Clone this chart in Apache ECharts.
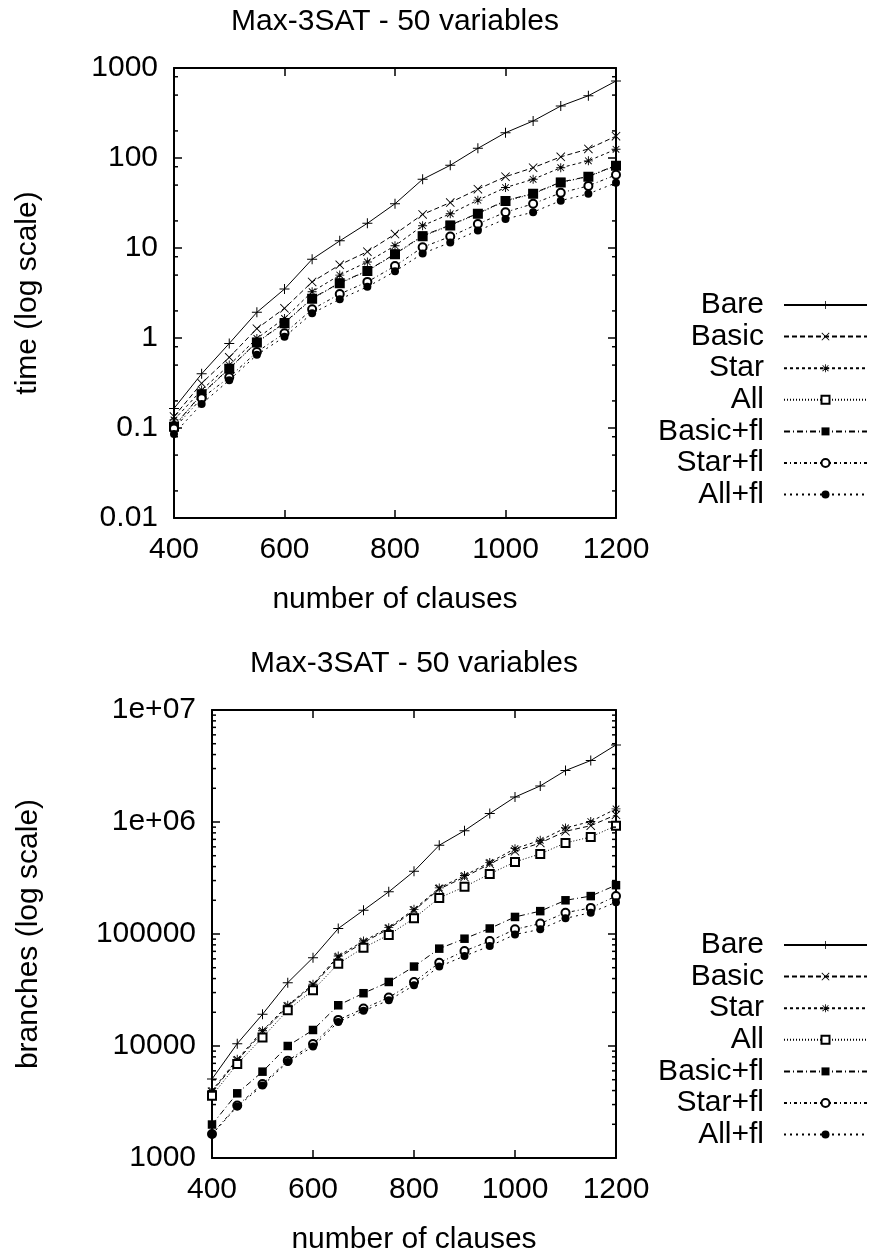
<!DOCTYPE html>
<html><head><meta charset="utf-8">
<script src="https://cdn.jsdelivr.net/npm/echarts@6/dist/echarts.min.js"></script>
<style>html,body{margin:0;padding:0;background:#fff}#c{width:871px;height:1256px}</style>
</head><body><div id="c"></div>
<script>
// ---------- data ----------
const clauses = [400,450,500,550,600,650,700,750,800,850,900,950,1000,1050,1100,1150,1200];
const seriesNames = ['Bare','Basic','Star','All','Basic+fl','Star+fl','All+fl'];

// top panel: time (log scale)
const timeBare   = [0.165,0.40,0.87,1.93,3.5,7.5,12,18.8,31,58,83,128,191,258,378,492,717];
const timeBasic  = [0.134,0.314,0.61,1.27,2.14,4.2,6.5,9.1,14.3,23.6,32,45,62,78,103,126,175];
const timeStar   = [0.123,0.264,0.50,0.99,1.65,3.27,5.0,7.0,10.6,17.7,24,34,47,58,78,93,125];
const timeAll    = [0.103,0.236,0.455,0.89,1.46,2.73,4.05,5.55,8.5,13.5,17.8,24,33.2,40,53.5,62,82];
const timeBasicFl= [0.105,0.239,0.46,0.90,1.48,2.76,4.1,5.6,8.6,13.7,18,24.3,33.6,40.5,54,62.5,83];
const timeStarFl = [0.099,0.214,0.366,0.70,1.13,2.08,3.08,4.2,6.3,10.2,13.4,18.5,25,31,41,49,65];
const timeAllFl  = [0.086,0.185,0.34,0.65,1.03,1.88,2.7,3.7,5.5,8.7,11.5,15.6,21,25,33.6,40,53];

// bottom panel: branches (log scale)
const brBare   = [5070,10500,19200,36800,61500,112000,163000,238000,363000,620000,837000,1190000,1670000,2100000,2880000,3540000,4880000];
const brBasic  = [3900,7400,13300,22500,34800,61500,84000,111000,162000,252000,322000,422000,547000,650000,826000,927000,1160000];
const brStar   = [4000,7600,13700,23100,35600,63600,86500,114000,166000,258000,333000,436000,578000,686000,886000,1010000,1310000];
const brAll    = [3600,6900,11900,20900,31500,54300,75500,98000,138000,210000,264000,344000,440000,519000,650000,735000,927000];
const brBasicFl= [1990,3780,5900,10000,13900,23100,29600,37300,51200,74000,90800,112000,142000,160000,200000,218000,273000];
const brStarFl = [1640,2940,4580,7400,10400,17100,21600,27100,37300,55400,70500,86500,110000,124000,155000,171000,218000];
const brAllFl  = [1620,2880,4430,7200,9900,16400,20600,25600,34800,51200,63600,78000,99000,110000,138000,155000,192000];

// tick labels
const xTickLabels = ['400','600','800','1000','1200'];
const topYLabels = ['0.01','0.1','1','10','100','1000'];
const botYLabels = ['1000','10000','100000','1e+06','1e+07'];
const titleText = 'Max-3SAT - 50 variables';
const xName = 'number of clauses';
const topYName = 'time (log scale)';
const botYName = 'branches (log scale)';

// minor tick positions (axis decoration)
const topDecades = [0.01,0.1,1,10,100];
const topMinorMult = [2,5,8];
const botDecades = [1000,10000,100000,1000000];
const botMinorMult = [2,3,4,5,6,7,8,9];

// ---------- styles ----------
const FONT = '"Liberation Sans", Arial, Helvetica, sans-serif';
const FS = 30;
const PLUS = 'path://M4.5,0H5.5V4.5H10V5.5H5.5V10H4.5V5.5H0V4.5H4.5Z';
const CROSS = 'path://M0.7,0L5,4.3L9.3,0L10,0.7L5.7,5L10,9.3L9.3,10L5,5.7L0.7,10L0,9.3L4.3,5L0,0.7Z';
const STAR = 'path://M4.5,0H5.5V4.5H10V5.5H5.5V10H4.5V5.5H0V4.5H4.5Z M1.7,1L5,4.3L8.3,1L9,1.7L5.7,5L9,8.3L8.3,9L5,5.7L1.7,9L1,8.3L4.3,5L1,1.7Z';
const styles = [
  {symbol: PLUS, size: 10, dash: 'solid', empty:false},
  {symbol: CROSS, size: 9, dash: [5,3], empty:false},
  {symbol: STAR, size: 9, dash: [3,3], empty:false},
  {symbol: 'emptyRect', size: 8, dash: [1,2], empty:true},
  {symbol: 'rect', size: 8.5, dash: [6,3,1,3], empty:false},
  {symbol: 'emptyCircle', size: 8, dash: [3,3,1,3], empty:true},
  {symbol: 'circle', size: 8, dash: [2,4], empty:false}
];

const topData = [timeBare,timeBasic,timeStar,timeAll,timeBasicFl,timeStarFl,timeAllFl];
const botData = [brBare,brBasic,brStar,brAll,brBasicFl,brStarFl,brAllFl];

function lineSeries(name, idx, values, xi, yi) {
  const s = styles[idx];
  return {
    type: 'line', name: name, xAxisIndex: xi, yAxisIndex: yi,
    data: clauses.map((c, i) => [c, values[i]]),
    symbol: s.symbol, symbolSize: s.size, showSymbol: true,
    lineStyle: {color: '#000', width: 1, type: s.dash},
    itemStyle: {color: '#000', borderColor: '#000', borderWidth: s.empty ? 1 : 0},
    emphasis: {disabled: true}, animation: false, z: 3 + idx * 0.01
  };
}

function minorSeries(xi, yi, values) {
  return {
    type: 'custom', xAxisIndex: xi, yAxisIndex: yi, silent: true, z: 6, clip: false,
    data: values.map(v => [clauses[0], v]),
    renderItem: function (params, api) {
      const p = api.coord([api.value(0), api.value(1)]);
      const cs = params.coordSys;
      const L = 4;
      return {type: 'group', children: [
        {type: 'line', shape: {x1: cs.x, y1: p[1], x2: cs.x + L, y2: p[1]}, style: {stroke: '#000', lineWidth: 1.5}},
        {type: 'line', shape: {x1: cs.x + cs.width - L, y1: p[1], x2: cs.x + cs.width, y2: p[1]}, style: {stroke: '#000', lineWidth: 1.5}}
      ]};
    }
  };
}

const txt = {color: '#000', fontSize: FS, fontFamily: FONT};

function xAxis(gi, pos, main) {
  return {
    type: 'value', gridIndex: gi, position: pos, min: 400, max: 1200, interval: 200,
    axisLine: {show: true, onZero: false, lineStyle: {color: '#000', width: 2}},
    axisTick: {show: true, inside: true, length: 8, lineStyle: {color: '#000', width: 1.5}},
    axisLabel: {show: main, margin: 17, ...txt, formatter: v => xTickLabels[Math.round((v - 400) / 200)]},
    splitLine: {show: false},
    name: main ? xName : '', nameLocation: 'middle', nameGap: 67, nameTextStyle: txt
  };
}
function yAxis(gi, pos, main, min, max, labels, name, gap) {
  return {
    type: 'log', logBase: 10, gridIndex: gi, position: pos, min: min, max: max,
    axisLine: {show: true, onZero: false, lineStyle: {color: '#000', width: 2}},
    axisTick: {show: true, inside: true, length: 8, lineStyle: {color: '#000', width: 1.5}},
    minorTick: {show: false},
    axisLabel: {show: main, margin: 16, ...txt,
      formatter: v => labels[Math.round(Math.log10(v) - Math.log10(min))]},
    splitLine: {show: false},
    name: main ? name : '', nameLocation: 'middle', nameGap: gap, nameTextStyle: txt
  };
}

const series = [];
seriesNames.forEach((n, i) => series.push(lineSeries(n, i, topData[i], 0, 0)));
seriesNames.forEach((n, i) => series.push(lineSeries(n, i, botData[i], 2, 2)));
const topMinor = [];
topDecades.forEach(d => topMinorMult.forEach(m => topMinor.push(d * m)));
const botMinor = [];
botDecades.forEach(d => botMinorMult.forEach(m => botMinor.push(d * m)));
series.push(minorSeries(0, 0, topMinor));
series.push(minorSeries(2, 2, botMinor));

function legend(top) {
  return {
    orient: 'vertical', right: 3, top: top, align: 'right', padding: 0,
    itemWidth: 83, itemHeight: 10, itemGap: 1.6, selectedMode: false,
    data: seriesNames,
    textStyle: {...txt, lineHeight: 30, padding: [0, 15, 0, 0]}
  };
}

const option = {
  backgroundColor: '#fff',
  animation: false,
  grid: [
    {left: 174, top: 68, width: 442, height: 450},
    {left: 212, top: 710, width: 404, height: 449}
  ],
  xAxis: [xAxis(0, 'bottom', true), xAxis(0, 'top', false), xAxis(1, 'bottom', true), xAxis(1, 'top', false)],
  yAxis: [
    yAxis(0, 'left', true, 0.01, 1000, topYLabels, topYName, 131),
    yAxis(0, 'right', false, 0.01, 1000, topYLabels, '', 0),
    yAxis(1, 'left', true, 1000, 10000000, botYLabels, botYName, 168),
    yAxis(1, 'right', false, 1000, 10000000, botYLabels, '', 0)
  ],
  legend: [legend(290), legend(930)],
  graphic: [
    {type: 'text', x: 395, y: 22, style: {text: titleText, font: FS + 'px ' + FONT, fill: '#000', align: 'center', verticalAlign: 'middle', textAlign: 'center', textVerticalAlign: 'middle'}},
    {type: 'text', x: 414, y: 664, style: {text: titleText, font: FS + 'px ' + FONT, fill: '#000', align: 'center', verticalAlign: 'middle', textAlign: 'center', textVerticalAlign: 'middle'}}
  ],
  series: series
};
const chart = echarts.init(document.getElementById('c'));
chart.setOption(option);
</script>
</body></html>
